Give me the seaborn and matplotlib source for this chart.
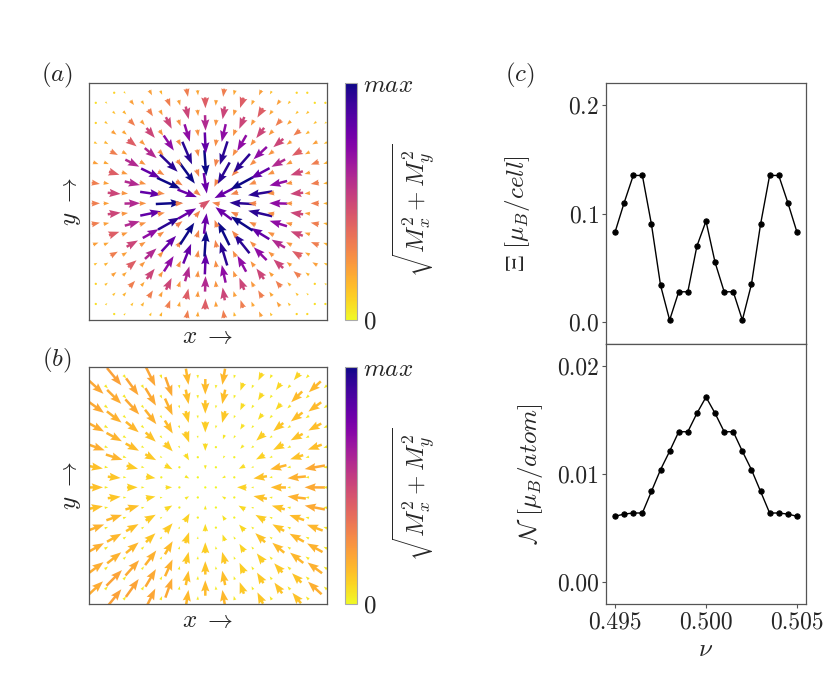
import numpy as np
import pandas as pd
import matplotlib
matplotlib.use('Agg')
from matplotlib import pyplot as plt
from matplotlib.colors import Normalize
from matplotlib.cm import ScalarMappable
import seaborn as sns

# panel (c): filling factor and the two magnetisation measures
nu = [0.4950, 0.4955, 0.4960, 0.4965, 0.4970, 0.4975, 0.4980, 0.4985, 0.4990, 0.4995, 0.5000,
      0.5005, 0.5010, 0.5015, 0.5020, 0.5025, 0.5030, 0.5035, 0.5040, 0.5045, 0.5050]
xi = [0.083, 0.110, 0.135, 0.135, 0.090, 0.034, 0.002, 0.028, 0.028, 0.070, 0.093,
      0.055, 0.028, 0.028, 0.002, 0.035, 0.090, 0.135, 0.135, 0.110, 0.083]
n_atom = [0.0061, 0.0063, 0.0064, 0.0064, 0.0084, 0.0104, 0.0121, 0.0139, 0.0139, 0.0156, 0.0171,
          0.0156, 0.0139, 0.0139, 0.0121, 0.0104, 0.0084, 0.0064, 0.0064, 0.0063, 0.0061]

# |M| (fraction of max) read per 10-unit ring around the texture centre
ring_a_big = [0.45, 0.55, 0.80, 0.95, 1.00, 0.95, 0.82, 0.70, 0.60, 0.50, 0.42, 0.32,
              0.22, 0.14, 0.09, 0.06, 0.04, 0.03]
ring_a_small = [0.30, 0.30, 0.30, 0.30, 0.30, 0.28, 0.27, 0.26, 0.25, 0.24, 0.22, 0.20,
                0.17, 0.14, 0.10, 0.08, 0.06, 0.05]
ring_b_big = [0.00, 0.03, 0.05, 0.07, 0.09, 0.11, 0.13, 0.145, 0.16, 0.175, 0.185, 0.195,
              0.20, 0.21, 0.215, 0.22, 0.22, 0.22]
ring_b_small = [0.00, 0.01, 0.015, 0.02, 0.02, 0.025, 0.03, 0.03, 0.03, 0.035, 0.035, 0.035,
                0.04, 0.04, 0.04, 0.04, 0.04, 0.04]
# angular weight of panel (b), one per 30 degree sector starting at +x
sector_b = [1.0, 0.7, 0.4, 0.8, 1.0, 0.9, 0.7, 0.85, 1.0, 0.8, 0.6, 0.8]

BOX = 238.0


def honeycomb():
    # pairs of sites along each row, rows shifted by half a period
    xs, ys, sub = [], [], []
    for k in range(23):
        y = 6 + 10.1 * k
        x0 = 25.2 if k % 2 == 0 else 6.8
        for m in range(-1, 8):
            for s, dx in enumerate((0.0, 10.6)):
                x = x0 + 36.5 * m + dx
                if -1 <= x <= BOX + 1:
                    xs.append(x)
                    ys.append(y)
                    sub.append(s)
    return np.array(xs), np.array(ys), np.array(sub)


def field(cx, cy, big, small, sectors=None):
    x, y, sub = honeycomb()
    dx, dy = x - cx, y - cy
    r = np.hypot(dx, dy)
    ring = np.minimum(np.rint(r / 10).astype(int), len(big) - 1)
    mag = np.where(sub == 0, np.array(big)[ring], np.array(small)[ring])
    if sectors is not None:
        ang = np.degrees(np.arctan2(dy, dx))
        sec = np.rint(ang / 30).astype(int) % 12
        mag = mag * np.where(sub == 0, np.array(sectors)[sec], 1.0)
    r = np.where(r == 0, 1, r)
    return x, y, -dx / r * mag, -dy / r * mag, mag


sns.set_style('white')
plt.rcParams['font.family'] = 'serif'
plt.rcParams['font.serif'] = ['cmr10']
plt.rcParams['mathtext.fontset'] = 'cm'
plt.rcParams['axes.formatter.use_mathtext'] = True
plt.rcParams['axes.unicode_minus'] = False

W, H = 830, 692
fig = plt.figure(figsize=(8.3, 6.92), dpi=100)


def px_axes(left, top, right, bottom):
    return fig.add_axes([left / W, 1 - bottom / H, (right - left) / W, (bottom - top) / H])


norm = Normalize(0, 1)
cmap = 'plasma_r'
spine_col = '#555555'

panels = [
    (px_axes(89, 83, 327, 320), px_axes(345, 83, 357, 320),
     field(119, 119, ring_a_big, ring_a_small), 1 / 26, 210),
    (px_axes(89, 367, 327, 604), px_axes(345, 367, 357, 604),
     field(116, 118, ring_b_big, ring_b_small, sector_b), 0.0095, 494),
]

for ax, cax, (x, y, u, v, mag), sc, lab_y in panels:
    ax.quiver(x, y, u, v, mag, cmap=cmap, norm=norm, angles='xy', scale_units='xy',
              scale=sc, pivot='mid', width=0.0105, headwidth=3.3, headlength=4.5,
              headaxislength=4)
    ax.set_xlim(0, BOX)
    ax.set_ylim(0, BOX)
    ax.set_xticks([])
    ax.set_yticks([])
    ax.set_xlabel(r'$x\ \rightarrow$', fontsize=18)
    ax.set_ylabel(r'$y\ \rightarrow$', fontsize=18)
    for sp in ax.spines.values():
        sp.set_color(spine_col)
        sp.set_linewidth(0.9)

    cb = fig.colorbar(ScalarMappable(norm=norm, cmap=cmap), cax=cax, ticks=[0, 1])
    cb.ax.set_yticklabels([r'$0$', r'$max$'], fontsize=18)
    cb.ax.tick_params(length=0, pad=4)
    cb.outline.set_edgecolor('#aaaaaa')
    cb.outline.set_linewidth(0.8)
    fig.text(414 / W, 1 - lab_y / H, r'$\sqrt{M_x^2+M_y^2}$', rotation=90,
             ha='center', va='center', fontsize=18)

fig.text(57 / W, 1 - 75 / H, r'$(a)$', ha='center', va='center', fontsize=18)
fig.text(57 / W, 1 - 360 / H, r'$(b)$', ha='center', va='center', fontsize=18)
fig.text(520 / W, 1 - 75 / H, r'$(c)$', ha='center', va='center', fontsize=18)

df = pd.DataFrame({'nu': nu, 'xi': xi, 'n': n_atom})
ax_top = px_axes(606, 83, 806, 344)
ax_bot = px_axes(606, 344, 806, 604)

for ax, col in ((ax_top, 'xi'), (ax_bot, 'n')):
    sns.lineplot(data=df, x='nu', y=col, ax=ax, color='k', marker='o', markersize=3.8,
                 markeredgecolor='k', linewidth=1)
    for sp in ax.spines.values():
        sp.set_color(spine_col)
        sp.set_linewidth(0.9)
    ax.tick_params(axis='both', which='both', left=True, bottom=True, length=3,
                   color=spine_col, labelsize=17, pad=2)
    ax.set_xlim(0.4945, 0.5055)

ax_top.set_ylim(-0.02, 0.22)
ax_top.set_yticks([0.0, 0.1, 0.2])
ax_top.set_xticks([0.495, 0.500, 0.505])
ax_top.tick_params(axis='x', bottom=False, labelbottom=False)
ax_top.set_xlabel('')
ax_top.set_ylabel(r'$\Xi\ [\mu_B/cell]$', fontsize=18)
ax_top.yaxis.set_label_coords(-0.37, 0.5)

ax_bot.set_ylim(-0.002, 0.022)
ax_bot.set_yticks([0.00, 0.01, 0.02])
ax_bot.set_yticklabels(['0.00', '0.01', '0.02'])
ax_bot.set_xticks([0.495, 0.500, 0.505])
ax_bot.set_xticklabels(['0.495', '0.500', '0.505'])
ax_bot.set_xlabel(r'$\nu$', fontsize=18)
ax_bot.xaxis.set_label_coords(0.5, -0.135)
ax_bot.set_ylabel(r'$\mathcal{N}\ [\mu_B/atom]$', fontsize=18)
ax_bot.yaxis.set_label_coords(-0.305, 0.5)

plt.savefig('out.png', dpi=100)
